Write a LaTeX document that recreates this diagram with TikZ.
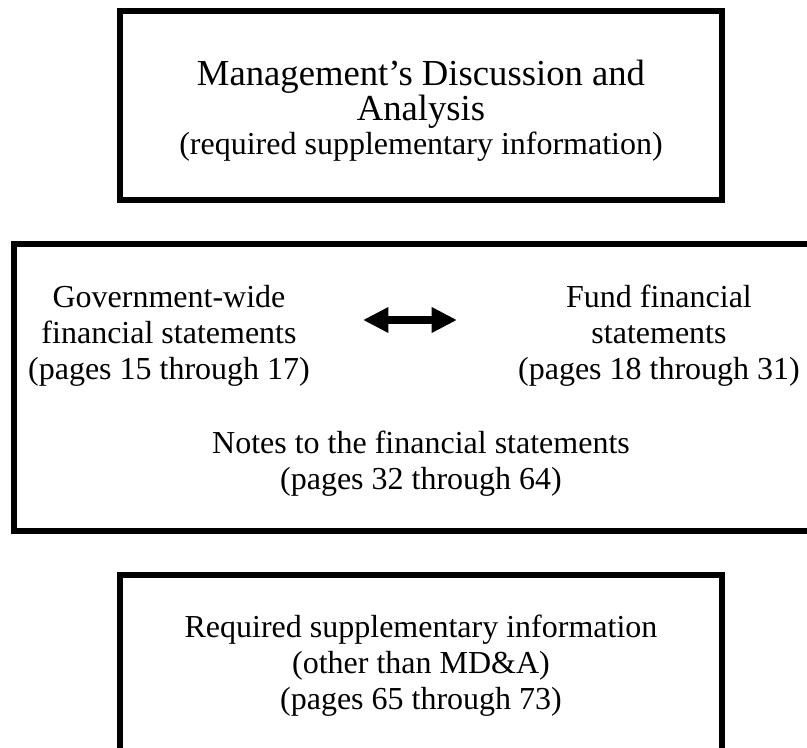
\documentclass[tikz,border=0pt]{standalone}
\usepackage{fontspec}
\setmainfont{Liberation Serif}
\usetikzlibrary{arrows.meta}

\begin{document}
\begin{tikzpicture}[x=0.75pt,y=-0.75pt,
    frame/.style={line width=4.5pt},
    txt/.style={align=center,font=\fontsize{24}{27}\selectfont},
    bigtxt/.style={align=center,font=\fontsize{27.5}{26.25}\selectfont},
    twoway/.style={line width=6.25pt,{Triangle[width=18pt,length=19pt]}-{Triangle[width=18pt,length=19pt]}}]
  \useasboundingbox (0,0) rectangle (807,748);
  \clip (0,0) rectangle (807,748);
  % frames
  \draw[frame] (120,11) rectangle (722,200);
  \draw[frame] (14,244) rectangle (831,531);
  \draw[frame] (120,575) rectangle (722,790);
  % MD&A
  \node[bigtxt] (mda) at (421,94) {Management's Discussion and\\Analysis};
  \node[txt,anchor=base] (mdanote) at (421,155) {(required supplementary information)};
  % basic financial statements
  \node[txt] (govwide) at (169,336) {Government-wide\\financial statements\\(pages 15 through 17)};
  \node[txt] (fund) at (659,336) {Fund financial\\statements\\(pages 18 through 31)};
  \node[txt] (notes) at (421,464) {Notes to the financial statements\\(pages 32 through 64)};
  \coordinate (arL) at (363,320);
  \coordinate (arR) at (457,320);
  \draw[twoway] (arL) -- (arR);
  % RSI
  \node[txt] (rsi) at (421,666) {Required supplementary information\\(other than MD\&A)\\(pages 65 through 73)};
\end{tikzpicture}
\end{document}
